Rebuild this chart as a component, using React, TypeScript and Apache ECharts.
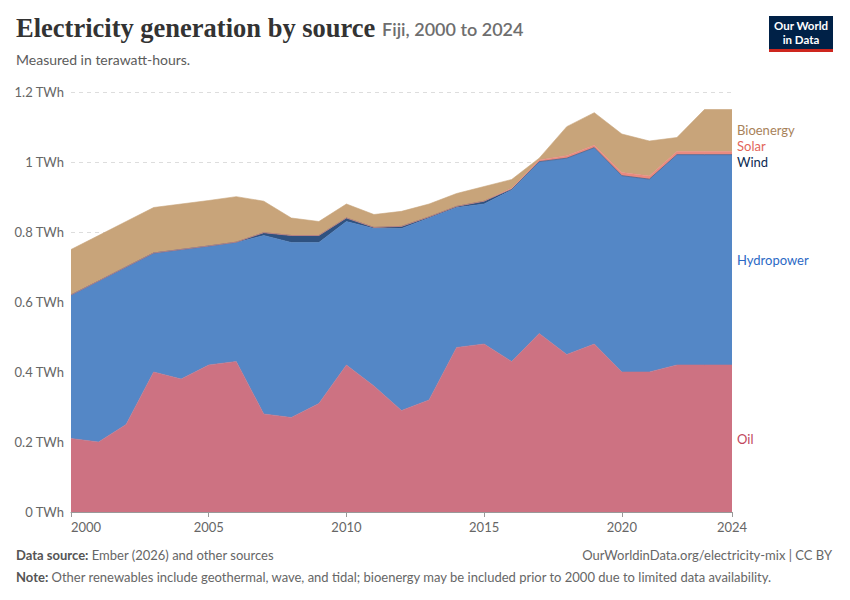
import React, { useEffect, useRef } from 'react';
import * as echarts from 'echarts';

const years = [
  '2000', '2001', '2002', '2003', '2004', '2005', '2006', '2007', '2008', '2009', '2010', '2011', '2012',
  '2013', '2014', '2015', '2016', '2017', '2018', '2019', '2020', '2021', '2022', '2023', '2024',
];
const shownYears = ['2000', '2005', '2010', '2015', '2020', '2024'];

// TWh
const oil = [
  0.21, 0.2, 0.25, 0.4, 0.38, 0.42, 0.43, 0.28, 0.27, 0.31, 0.42, 0.36, 0.29,
  0.32, 0.47, 0.48, 0.43, 0.51, 0.45, 0.48, 0.4, 0.4, 0.42, 0.42, 0.42,
];
const hydro = [
  0.41, 0.46, 0.45, 0.34, 0.37, 0.34, 0.34, 0.51, 0.5, 0.46, 0.41, 0.45, 0.52,
  0.52, 0.4, 0.4, 0.49, 0.49, 0.56, 0.56, 0.56, 0.55, 0.6, 0.6, 0.6,
];
const wind = [
  0, 0, 0, 0, 0, 0, 0.001, 0.008, 0.02, 0.02, 0.01, 0.003, 0.006,
  0.003, 0.003, 0.008, 0.002, 0.001, 0.001, 0.001, 0.001, 0.001, 0.001, 0.001, 0.001,
];
const solar = [
  0, 0, 0, 0, 0, 0, 0, 0, 0, 0, 0, 0, 0,
  0, 0, 0, 0.003, 0.005, 0.007, 0.007, 0.009, 0.009, 0.009, 0.009, 0.009,
];
const bio = [
  0.13, 0.13, 0.13, 0.13, 0.13, 0.13, 0.13, 0.09, 0.05, 0.04, 0.04, 0.037, 0.043,
  0.037, 0.037, 0.042, 0.025, 0.005, 0.083, 0.093, 0.11, 0.1, 0.04, 0.12, 0.12,
];

const sources = [
  { name: 'Oil', data: oil, fill: '#cd7282', text: '#c1475c' },
  { name: 'Hydropower', data: hydro, fill: '#5487c6', text: '#2c69c5' },
  { name: 'Wind', data: wind, fill: '#2f5280', text: '#0c2a52' },
  { name: 'Solar', data: solar, fill: '#e98a80', text: '#e2665a' },
  { name: 'Bioenergy', data: bio, fill: '#c8a47a', text: '#a8825a' },
];

const FONT = 'Lato, "Noto Sans", sans-serif';

export default function App() {
  const ref = useRef<HTMLDivElement | null>(null);

  useEffect(() => {
    if (!ref.current) return;
    const chart = echarts.init(ref.current, undefined, { renderer: 'svg' });
    chart.setOption({
      animation: false,
      grid: { left: 71, right: 118, top: 92, bottom: 88 },
      xAxis: {
        type: 'category',
        data: years,
        boundaryGap: false,
        axisLine: { lineStyle: { color: '#999' } },
        axisTick: {
          length: 5,
          lineStyle: { color: '#999' },
          interval: (_i: number, v: string) => shownYears.includes(v),
        },
        axisLabel: {
          color: '#666',
          fontFamily: FONT,
          fontSize: 13,
          margin: 8,
          alignMinLabel: 'left',
          interval: (_i: number, v: string) => shownYears.includes(v),
        },
        splitLine: { show: false },
      },
      yAxis: {
        type: 'value',
        min: 0,
        max: 1.2,
        interval: 0.2,
        axisLine: { show: false },
        axisTick: { show: false },
        axisLabel: {
          color: '#666',
          fontFamily: FONT,
          fontSize: 13,
          margin: 7,
          formatter: (v: number) => `${+v.toFixed(1)} TWh`,
        },
        splitLine: { lineStyle: { color: '#dddddd', type: [4, 4] } },
      },
      series: sources.map((s) => ({
        name: s.name,
        type: 'line',
        stack: 'total',
        data: s.data,
        symbol: 'none',
        silent: true,
        lineStyle: { width: 0.6, color: s.fill },
        areaStyle: { color: s.fill, opacity: 1 },
      })),
    });

    // right-hand labels at the middle of each band in 2024, pushed apart when they overlap
    const last = years.length - 1;
    let base = 0;
    const labels = sources.map((s) => {
      const v = s.data[last];
      const mid = base + v / 2;
      base += v;
      const p = chart.convertToPixel({ gridIndex: 0 }, [last, mid]) as number[];
      return { s, y: p[1] };
    });
    labels.sort((a, b) => a.y - b.y);
    const gap = 16;
    for (let k = 0; k < 60; k++) {
      for (let i = 0; i < labels.length - 1; i++) {
        const d = labels[i + 1].y - labels[i].y;
        if (d < gap) {
          const m = (gap - d) / 2;
          labels[i].y -= m;
          labels[i + 1].y += m;
        }
      }
    }
    const x0 = (chart.convertToPixel({ gridIndex: 0 }, [last, 0]) as number[])[0];

    const logoText = (text: string, y: number) => ({
      type: 'text',
      x: 32,
      y,
      style: {
        text,
        fontFamily: FONT,
        fontSize: 11.5,
        lineHeight: 11.5,
        fontWeight: 'bold',
        fill: '#fff',
        align: 'center',
        verticalAlign: 'middle',
      },
    });

    chart.setOption({
      graphic: [
        {
          type: 'text',
          left: 16,
          top: 14,
          style: {
            text: '{t|Electricity generation by source}  {s|Fiji, 2000 to 2024}',
            rich: {
              t: {
                fontFamily: '"Liberation Serif", "DejaVu Serif", serif',
                fontWeight: 'bold',
                fontSize: 26.5,
                fill: '#333',
              },
              s: {
                fontFamily: FONT,
                fontWeight: 600,
                fontSize: 18,
                fill: '#6e6e6e',
                padding: [3, 0, 0, 0],
              },
            },
          },
        },
        {
          type: 'text',
          left: 16,
          top: 52,
          style: { text: 'Measured in terawatt-hours.', fontFamily: FONT, fontSize: 14, fill: '#5b5b5b' },
        },
        {
          type: 'group',
          left: 769,
          top: 16,
          children: [
            { type: 'rect', shape: { x: 0, y: 0, width: 64, height: 36 }, style: { fill: '#002147' } },
            { type: 'rect', shape: { x: 0, y: 33, width: 64, height: 3 }, style: { fill: '#ce261e' } },
            logoText('Our World', 9.5),
            logoText('in Data', 23.5),
          ],
        },
        ...labels.map((l) => ({
          type: 'text',
          x: x0 + 5,
          y: l.y,
          style: {
            text: l.s.name,
            fontFamily: FONT,
            fontSize: 13,
            fill: l.s.text,
            verticalAlign: 'middle',
          },
        })),
        {
          type: 'text',
          left: 16,
          top: 548,
          style: {
            text: '{b|Data source:} Ember (2026) and other sources',
            fontFamily: FONT,
            fontSize: 13,
            fill: '#666',
            rich: { b: { fontFamily: FONT, fontSize: 13, fontWeight: 'bold', fill: '#555' } },
          },
        },
        {
          type: 'text',
          right: 18,
          top: 548,
          style: {
            text: 'OurWorldinData.org/electricity-mix | CC BY',
            fontFamily: FONT,
            fontSize: 13,
            fill: '#666',
          },
        },
        {
          type: 'text',
          left: 16,
          top: 570,
          style: {
            text:
              '{b|Note:} Other renewables include geothermal, wave, and tidal; bioenergy may be included prior to 2000 due to limited data availability.',
            fontFamily: FONT,
            fontSize: 13,
            fill: '#666',
            rich: { b: { fontFamily: FONT, fontSize: 13, fontWeight: 'bold', fill: '#555' } },
          },
        },
      ],
    });

    return () => chart.dispose();
  }, []);

  return (
    <div
      ref={ref}
      style={{ position: 'absolute', left: 0, top: 0, width: 850, height: 600, background: '#fff' }}
    />
  );
}
